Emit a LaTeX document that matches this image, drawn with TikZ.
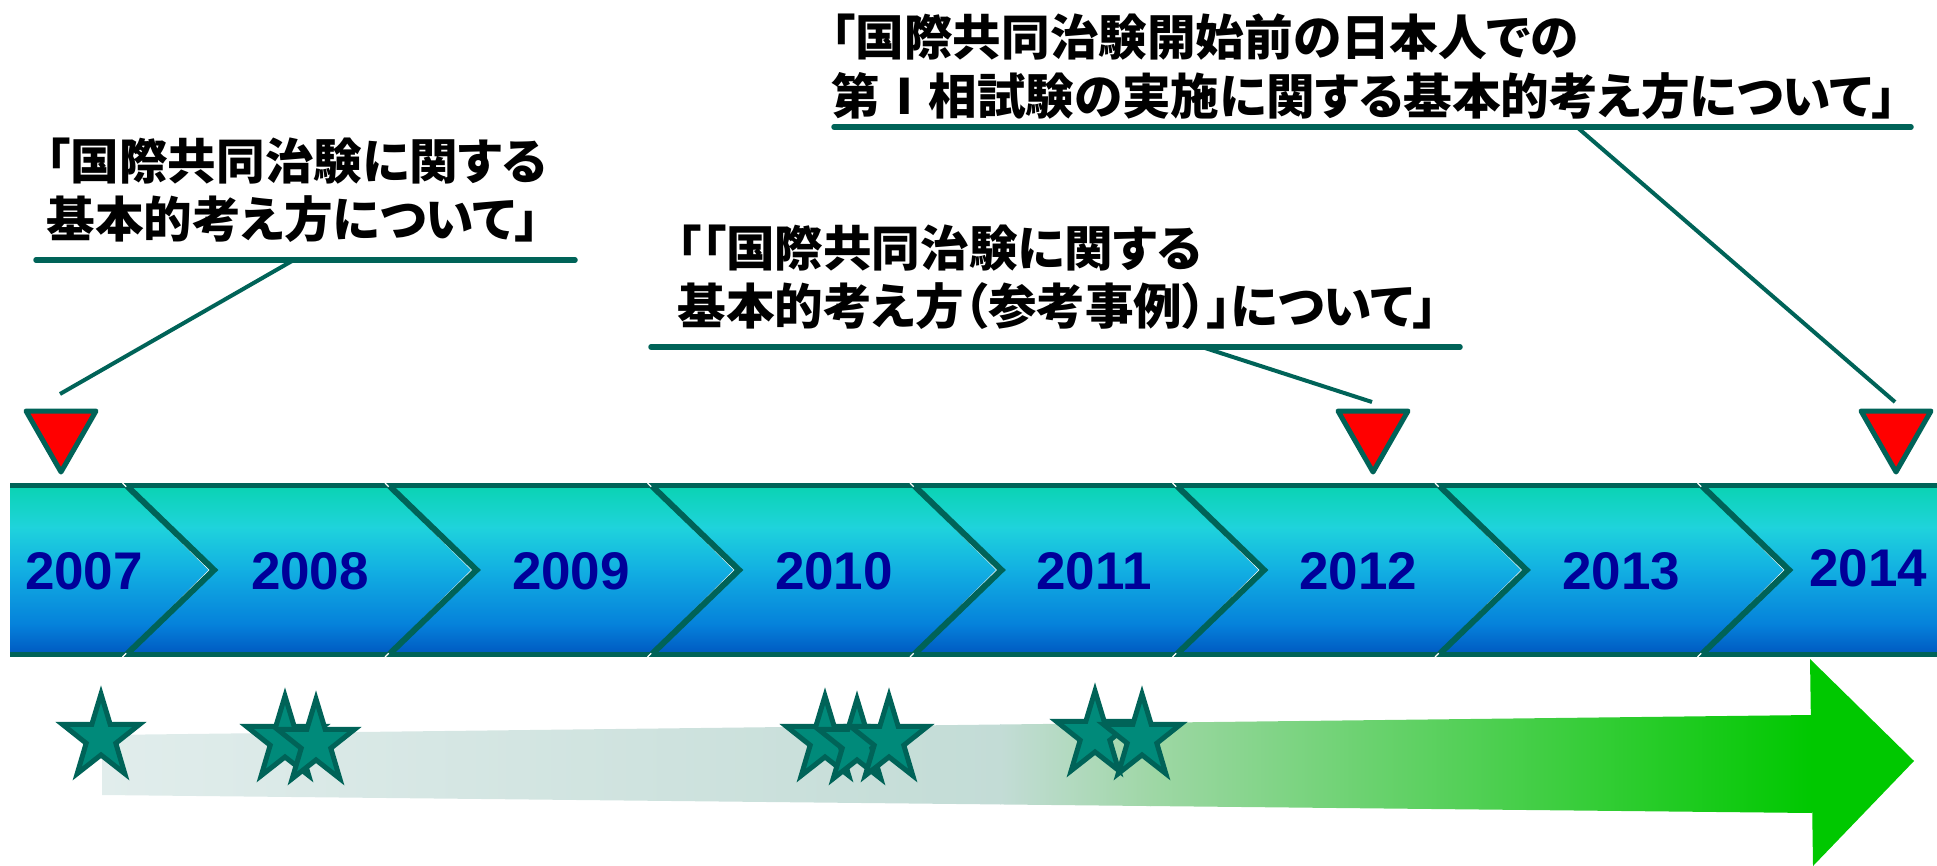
\documentclass[tikz,border=0pt]{standalone}
\usepackage{fontspec}
\newfontfamily\jpfont[RawFeature=+palt]{Noto Sans CJK JP}
\newfontfamily\yrfont{Liberation Sans}
\usetikzlibrary{shapes.geometric}
\definecolor{dkgreen}{HTML}{006358}
\definecolor{starfill}{HTML}{008A7A}
\definecolor{yrblue}{HTML}{000099}
\definecolor{tA}{HTML}{0AD3B2}
\definecolor{tB}{HTML}{1FD3DC}
\definecolor{tC}{HTML}{12AFE2}
\definecolor{tD}{HTML}{0580DA}
\definecolor{tE}{HTML}{0058C0}
\definecolor{aA}{HTML}{E1EDEC}
\definecolor{aB}{HTML}{C3DCD6}
\definecolor{aC}{HTML}{9FD7A6}
\definecolor{aD}{HTML}{00C800}
\begin{document}
\begin{tikzpicture}[x=0.5pt,y=-0.5pt,
  yr/.style={font=\yrfont\bfseries\fontsize{26.5pt}{30pt}\selectfont, text=yrblue, inner sep=0},
  jp/.style={font=\jpfont\bfseries\fontsize{24.3pt}{29pt}\selectfont, inner sep=0, anchor=base west},
  uline/.style={dkgreen, line width=2.75pt, line cap=round},
  leader/.style={dkgreen, line width=2pt},
  marker/.style={draw=dkgreen, fill=red, line width=2.5pt, line join=round},
  starsh/.style={star, star points=5, star point ratio=2.6, minimum size=44pt, inner sep=0pt, draw=dkgreen, fill=starfill, line width=2.5pt, transform shape},
  chev/.style={dkgreen, line width=3pt},
  chevw/.style={white, line width=0.6pt}]
\useasboundingbox (0,0) rectangle (1937,866);

% timeline bar
\shade[top color=tA, bottom color=tB] (10,485) rectangle (1937,528);
\shade[top color=tB, bottom color=tC] (10,527) rectangle (1937,571);
\shade[top color=tC, bottom color=tD] (10,570) rectangle (1937,626);
\shade[top color=tD, bottom color=tE] (10,625) rectangle (1937,655);
\draw[dkgreen, line width=2.5pt] (10,485.5) -- (1937,485.5);
\draw[dkgreen, line width=2.5pt] (10,654.5) -- (1937,654.5);
\foreach \b in {121,383.5,646,908.5,1171,1433.5,1696}{
  \draw[chevw] (\b+1.5,483) -- (\b+88.5,570) -- (\b+1.5,657);
  \draw[chev] (\b+6,486) -- (\b+93,570) -- (\b+6,654);
}

% years
\node[yr] (y2007) at (84,571) {2007};
\node[yr] (y2008) at (310,571) {2008};
\node[yr] (y2009) at (571,571) {2009};
\node[yr] (y2010) at (834,571) {2010};
\node[yr] (y2011) at (1094,571) {2011};
\node[yr] (y2012) at (1358,571) {2012};
\node[yr] (y2013) at (1621,571) {2013};
\node[yr] (y2014) at (1868,568) {2014};

% big arrow
\begin{scope}
\clip (102,735) -- (1812,715) -- (1812,813) -- (102,795) -- cycle;
\shade[left color=aA, right color=aB] (100,700) rectangle (1001,830);
\shade[left color=aB, right color=aC] (1000,700) rectangle (1151,830);
\shade[left color=aC, right color=aD] (1150,700) rectangle (1812,830);
\end{scope}
\fill[aD] (1810,659) -- (1914,761) -- (1813,866) -- cycle;

% stars
\begin{scope}[shift={(101,738)}, xscale=0.92]\node[starsh] (s1) at (0,0) {};\end{scope}
\begin{scope}[shift={(285,740)}, xscale=0.92]\node[starsh] (s2) at (0,0) {};\end{scope}
\begin{scope}[shift={(316,743)}, xscale=0.92]\node[starsh] (s3) at (0,0) {};\end{scope}
\begin{scope}[shift={(825,740)}, xscale=0.92]\node[starsh] (s4) at (0,0) {};\end{scope}
\begin{scope}[shift={(857,743)}, xscale=0.92]\node[starsh] (s5) at (0,0) {};\end{scope}
\begin{scope}[shift={(889,740)}, xscale=0.92]\node[starsh] (s6) at (0,0) {};\end{scope}
\begin{scope}[shift={(1095,735)}, xscale=0.92]\node[starsh] (s7) at (0,0) {};\end{scope}
\begin{scope}[shift={(1142,738)}, xscale=0.92]\node[starsh] (s8) at (0,0) {};\end{scope}

% markers
\draw[marker] (26,411) -- (96,411) -- (61,472) -- cycle;
\draw[marker] (1338,411) -- (1408,411) -- (1373,472) -- cycle;
\draw[marker] (1861,411) -- (1931,411) -- (1896,472) -- cycle;

% labels
\node[jp] (t1a) at (46,180) {「国際共同治験に関する};
\node[jp] (t1b) at (46,238) {基本的考え方について」};
\node[jp] (t2a) at (677,266) {「「国際共同治験に関する};
\node[jp] (t2b) at (677,324) {基本的考え方（参考事例）」について」};
\node[jp] (t3a) at (831,56) {「国際共同治験開始前の日本人での};
\node[jp] (t3b) at (831,115) {第{\addfontfeature{RawFeature=-palt}Ⅰ}相試験の実施に関する基本的考え方について」};

% underlines
\coordinate (u1l) at (36,260); \coordinate (u1r) at (575,260);
\coordinate (u2l) at (651,347); \coordinate (u2r) at (1460,347);
\coordinate (u3l) at (834,127); \coordinate (u3r) at (1911,127);
\draw[uline] (u1l) -- (u1r);
\draw[uline] (u2l) -- (u2r);
\draw[uline] (u3l) -- (u3r);

% leaders
\coordinate (l1a) at (292,261); \coordinate (l1b) at (60,394);
\coordinate (l2a) at (1205,348); \coordinate (l2b) at (1372,402);
\coordinate (l3a) at (1578,128); \coordinate (l3b) at (1895,402);
\draw[leader] (l1a) -- (l1b);
\draw[leader] (l2a) -- (l2b);
\draw[leader] (l3a) -- (l3b);
\end{tikzpicture}
\end{document}
